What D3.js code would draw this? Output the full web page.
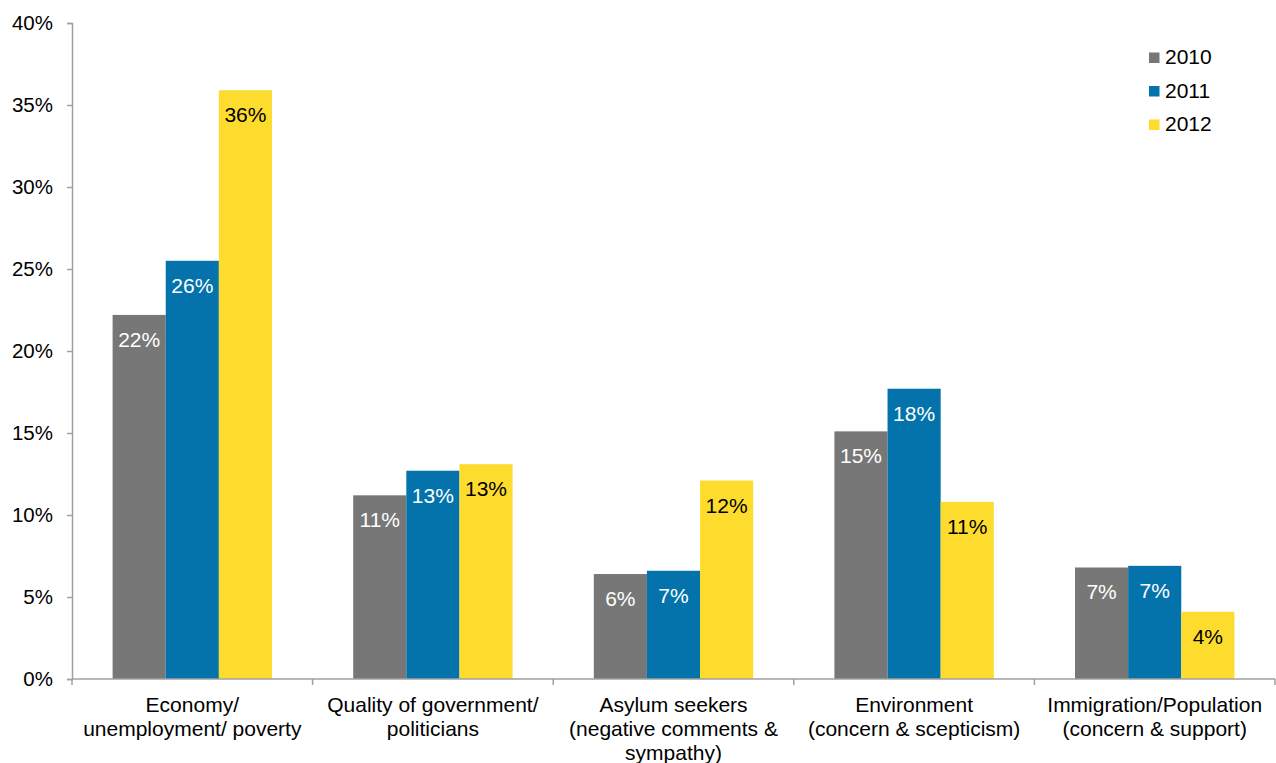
<!DOCTYPE html>
<html>
<head>
<meta charset="utf-8">
<script src="https://cdn.jsdelivr.net/npm/d3@7"></script>
<style>
  html, body { margin: 0; padding: 0; background: #fff; }
  svg { display: block; font-family: "Liberation Sans", Arial, sans-serif; }
</style>
</head>
<body>
<svg id="chart" width="1276" height="763"></svg>
<script>
// Issue categories (each label split into lines)
const categories = [
  ["Economy/", "unemployment/ poverty"],
  ["Quality of government/", "politicians"],
  ["Asylum seekers", "(negative comments &", "sympathy)"],
  ["Environment", "(concern & scepticism)"],
  ["Immigration/Population", "(concern & support)"]
];
const years = ["2010", "2011", "2012"];
const values2010 = [22.2, 11.2, 6.4, 15.1, 6.8];
const values2011 = [25.5, 12.7, 6.6, 17.7, 6.9];
const values2012 = [35.9, 13.1, 12.1, 10.8, 4.1];
const yTicks = [0, 5, 10, 15, 20, 25, 30, 35, 40];

const colors = { "2010": "#777777", "2011": "#0473AB", "2012": "#FDDC2E" };
const labelColors = { "2010": "#ffffff", "2011": "#ffffff", "2012": "#000000" };

const seriesValues = { "2010": values2010, "2011": values2011, "2012": values2012 };
const catKeys = categories.map((c, i) => i);

const svg = d3.select("#chart");
const plotLeft = 72, plotRight = 1275, plotTop = 23, plotBottom = 679;
const axisColor = "#a0a0a0";

const y = d3.scaleLinear().domain([0, 40]).range([plotBottom, plotTop]);
const x0 = d3.scaleBand().domain(catKeys).range([plotLeft, plotRight])
  .paddingInner(0.3375).paddingOuter(0.16875);
const x1 = d3.scaleBand().domain(years).range([0, x0.bandwidth()]);

// Bars
const groups = svg.append("g").selectAll("g")
  .data(catKeys).join("g")
  .attr("transform", i => `translate(${x0(i)},0)`);

groups.selectAll("rect")
  .data(i => years.map(yr => ({ yr, v: seriesValues[yr][i] })))
  .join("rect")
  .attr("x", d => x1(d.yr))
  .attr("y", d => y(d.v))
  .attr("width", x1.bandwidth())
  .attr("height", d => y(0) - y(d.v))
  .attr("fill", d => colors[d.yr]);

// Value labels just inside the top of each bar
groups.selectAll("text.val")
  .data(i => years.map(yr => ({ yr, v: seriesValues[yr][i] })))
  .join("text")
  .attr("class", "val")
  .attr("x", d => x1(d.yr) + x1.bandwidth() / 2)
  .attr("y", d => y(d.v) + 32)
  .attr("text-anchor", "middle")
  .attr("font-size", 21)
  .attr("fill", d => labelColors[d.yr])
  .text(d => Math.round(d.v) + "%");

// Y axis
const yAxis = svg.append("g")
  .attr("transform", `translate(${plotLeft},0)`)
  .call(d3.axisLeft(y).tickValues(yTicks).tickSize(5).tickPadding(14).tickFormat(d => d + "%"));
yAxis.select(".domain").attr("stroke", axisColor).attr("stroke-width", 1.5);
yAxis.selectAll(".tick line").attr("stroke", axisColor).attr("stroke-width", 1.5);
yAxis.selectAll(".tick text").attr("font-size", 20.5).attr("fill", "#000")
  .attr("font-family", "Liberation Sans, Arial, sans-serif");

// X axis with ticks at category boundaries
const step = x0.step();
const boundaries = catKeys.map(i => x0(i) - step * x0.paddingInner() / 2).concat([plotRight]);
const xg = svg.append("g");
xg.append("line")
  .attr("x1", plotLeft).attr("x2", plotRight).attr("y1", plotBottom).attr("y2", plotBottom)
  .attr("stroke", axisColor).attr("stroke-width", 1.5);
xg.selectAll("line.tk").data(boundaries).join("line")
  .attr("class", "tk")
  .attr("x1", d => d).attr("x2", d => d)
  .attr("y1", plotBottom).attr("y2", plotBottom + 6)
  .attr("stroke", axisColor).attr("stroke-width", 1.5);

// Category labels
const catLabels = svg.append("g").selectAll("text")
  .data(catKeys).join("text")
  .attr("x", i => x0(i) + x0.bandwidth() / 2)
  .attr("y", 712)
  .attr("text-anchor", "middle")
  .attr("font-size", 21)
  .attr("fill", "#000");
catLabels.selectAll("tspan")
  .data(i => categories[i]).join("tspan")
  .attr("x", function () { return d3.select(this.parentNode).attr("x"); })
  .attr("dy", (d, j) => j === 0 ? 0 : 24)
  .text(d => d);

// Legend
const legend = svg.append("g").selectAll("g")
  .data(years).join("g")
  .attr("transform", (d, i) => `translate(1149,${52.5 + i * 33.5})`);
legend.append("rect").attr("width", 10.5).attr("height", 10.5).attr("fill", d => colors[d]);
legend.append("text").attr("x", 16).attr("y", 11.5).attr("font-size", 21).attr("fill", "#000").text(d => d);
</script>
</body>
</html>
